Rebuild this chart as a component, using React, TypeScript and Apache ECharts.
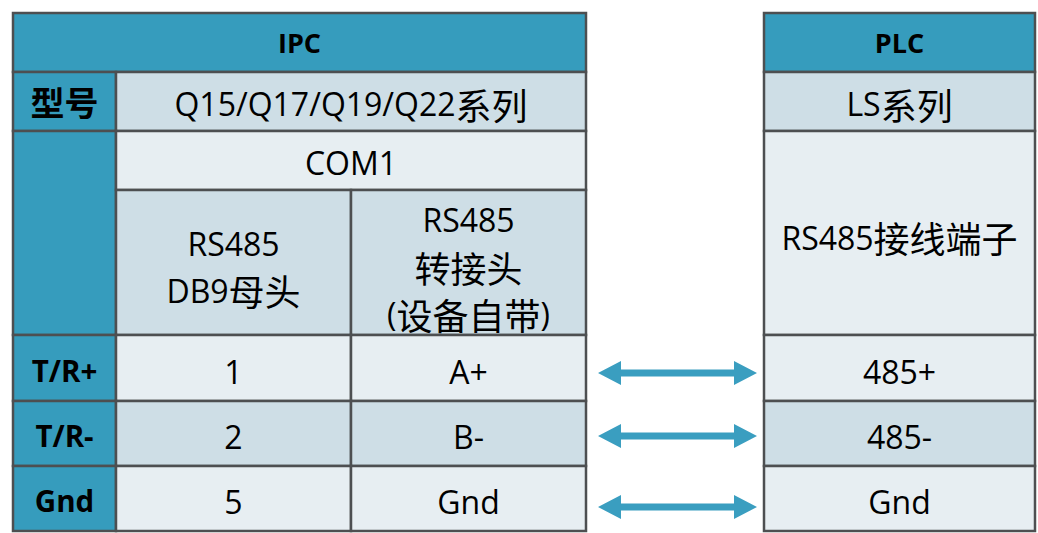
import React, { useEffect, useRef } from "react";
import * as echarts from "echarts";

// ---- content ----
const tableHeaders = ["IPC", "PLC"];
const rowLabels = ["型号", "T/R+", "T/R-", "Gnd"];
const modelSeries = ["Q15/Q17/Q19/Q22系列", "LS系列"];
const portNames = ["COM1"];
const connectorTypes = ["RS485\nDB9母头", "RS485\n转接头\n(设备自带)", "RS485接线端子"];
const db9Pins = ["1", "2", "5"];
const adapterPins = ["A+", "B-", "Gnd"];
const plcTerminals = ["485+", "485-", "Gnd"];

// ---- layout ----
const ROW_Y = [13, 72, 131, 190, 335, 401, 466, 531];
const LEFT_X = [13, 116, 351, 586];
const RIGHT_X = [764, 1035];
const ARROW_X = [598, 757];
const ARROW_Y = [373, 436, 507];

const TEAL = "#369CBD";
const LIGHT = "#E7EEF2";
const MID = "#CEDEE6";
const BORDER = "#4D4F51";
const TEXT = "#404040";
const ARROW = "#3A9EC0";

const LATIN = '"Open Sans", "Noto Sans", sans-serif';
const CJK = '"Noto Sans CJK SC", sans-serif';

function toRich(s: string) {
  return s
    .split("\n")
    .map((line) =>
      line.replace(/([\u3400-\u9fff]+)|([^\u3400-\u9fff]+)/g, (m, c) =>
        c ? `{c|${m}}` : `{l|${m}}`
      )
    )
    .join("\n");
}

function cell(x0: number, y0: number, x1: number, y1: number, fill: string, text?: string, kind: "body" | "head" | "label" = "body", dy = 3) {
  const els: any[] = [
    {
      type: "rect",
      shape: { x: x0, y: y0, width: x1 - x0, height: y1 - y0 },
      style: { fill, stroke: BORDER, lineWidth: 2.5 },
      z: 1,
    },
  ];
  if (text) {
    let rich: any;
    if (kind === "body") {
      rich = {
        l: { fontFamily: LATIN, fontSize: 32, color: TEXT, lineHeight: 47 },
        c: { fontFamily: CJK, fontSize: 36, color: TEXT, lineHeight: 47 },
      };
    } else if (kind === "head") {
      rich = {
        l: { fontFamily: LATIN, fontSize: 27, fontWeight: "bold", color: "#FFFFFF", lineHeight: 40 },
        c: { fontFamily: CJK, fontSize: 34, fontWeight: "bold", color: "#FFFFFF", lineHeight: 40 },
      };
    } else {
      rich = {
        l: { fontFamily: LATIN, fontSize: 29.5, fontWeight: "bold", color: "#FFFFFF", lineHeight: 40 },
        c: { fontFamily: CJK, fontSize: 34, fontWeight: "bold", color: "#FFFFFF", lineHeight: 40 },
      };
    }
    els.push({
      type: "text",
      x: (x0 + x1) / 2,
      y: (y0 + y1) / 2 + dy,
      z: 3,
      style: {
        text: toRich(text),
        rich,
        align: "center",
        verticalAlign: "middle",
      },
    });
  }
  return els;
}

function arrow(x0: number, x1: number, y: number) {
  const hl = 23, hh = 12, st = 3.5;
  return {
    type: "polygon",
    z: 2,
    shape: {
      points: [
        [x0, y],
        [x0 + hl, y - hh],
        [x0 + hl, y - st],
        [x1 - hl, y - st],
        [x1 - hl, y - hh],
        [x1, y],
        [x1 - hl, y + hh],
        [x1 - hl, y + st],
        [x0 + hl, y + st],
        [x0 + hl, y + hh],
      ],
    },
    style: { fill: ARROW },
  };
}

function buildGraphics() {
  const g: any[] = [];
  const [lx0, lx1, lx2, lx3] = LEFT_X;
  const [rx0, rx1] = RIGHT_X;
  const Y = ROW_Y;
  // headers
  g.push(...cell(lx0, Y[0], lx3, Y[1], TEAL, tableHeaders[0], "head", 0));
  g.push(...cell(rx0, Y[0], rx1, Y[1], TEAL, tableHeaders[1], "head", 0));
  // model row
  g.push(...cell(lx0, Y[1], lx1, Y[2], TEAL, rowLabels[0], "label", 0));
  g.push(...cell(lx1, Y[1], lx3, Y[2], MID, modelSeries[0], "body", 2));
  g.push(...cell(rx0, Y[1], rx1, Y[2], MID, modelSeries[1], "body", 2));
  // merged label cell for port/connector rows
  g.push(...cell(lx0, Y[2], lx1, Y[4], TEAL));
  g.push(...cell(lx1, Y[2], lx3, Y[3], LIGHT, portNames[0], "body", 2));
  g.push(...cell(lx1, Y[3], lx2, Y[4], MID, connectorTypes[0], "body", 4));
  g.push(...cell(lx2, Y[3], lx3, Y[4], MID, connectorTypes[1], "body", 4));
  g.push(...cell(rx0, Y[2], rx1, Y[4], LIGHT, connectorTypes[2], "body", 4));
  // pin rows
  for (let i = 0; i < 3; i++) {
    const fill = i === 1 ? MID : LIGHT;
    const y0 = Y[4 + i], y1 = Y[5 + i];
    g.push(...cell(lx0, y0, lx1, y1, TEAL, rowLabels[i + 1], "label", 2));
    g.push(...cell(lx1, y0, lx2, y1, fill, db9Pins[i]));
    g.push(...cell(lx2, y0, lx3, y1, fill, adapterPins[i]));
    g.push(...cell(rx0, y0, rx1, y1, fill, plcTerminals[i]));
    g.push(arrow(ARROW_X[0], ARROW_X[1], ARROW_Y[i]));
  }
  return g;
}

export default function App() {
  const ref = useRef<HTMLDivElement>(null);
  useEffect(() => {
    if (!ref.current) return;
    const chart = echarts.init(ref.current, undefined, { renderer: "svg" });
    chart.setOption({
      animation: false,
      backgroundColor: "#FFFFFF",
      graphic: { elements: buildGraphics() },
    });
    return () => chart.dispose();
  }, []);
  return (
    <div
      ref={ref}
      style={{ position: "fixed", left: 0, top: 0, width: 1038, height: 533 }}
    />
  );
}
